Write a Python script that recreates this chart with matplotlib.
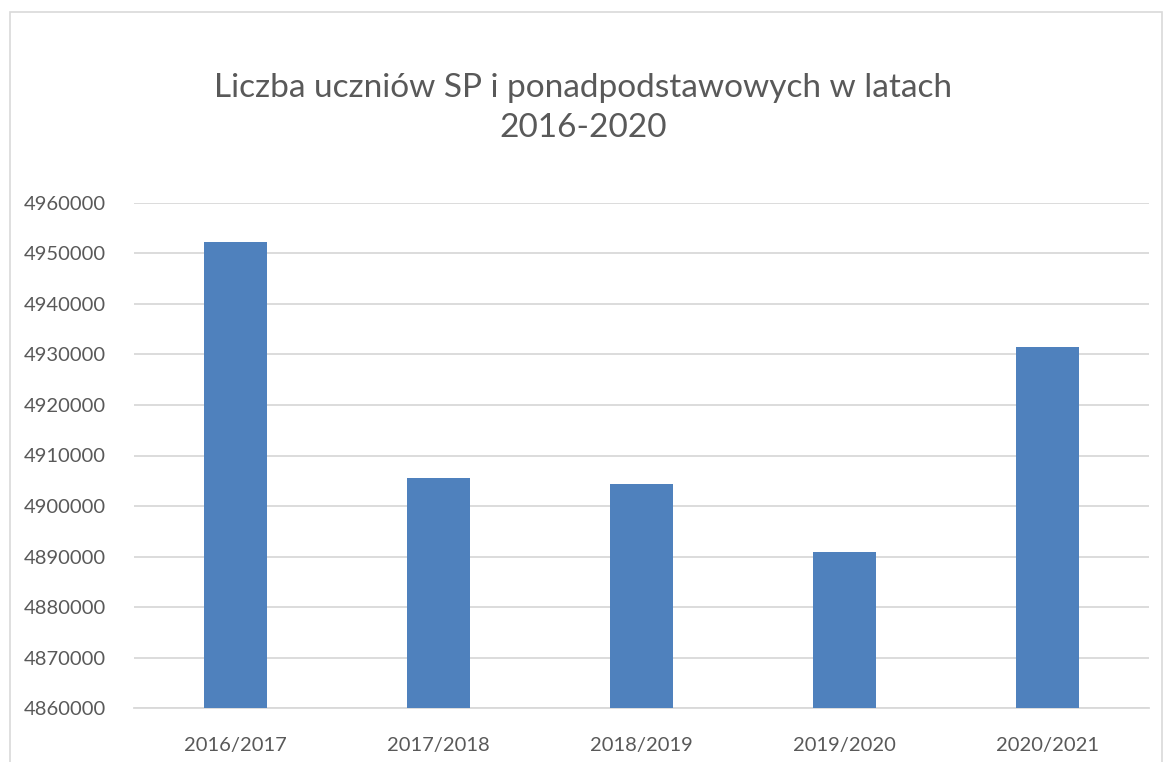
import matplotlib.pyplot as plt
from matplotlib.patches import Rectangle

# school years and pupil counts
years = ['2016/2017', '2017/2018', '2018/2019', '2019/2020', '2020/2021']
pupils = [4952200, 4905500, 4904400, 4891000, 4931500]
y_ticks = list(range(4860000, 4960001, 10000))

plt.rcParams['font.family'] = ['Lato', 'DejaVu Sans']

fig = plt.figure(figsize=(11.66, 7.62), dpi=100)
W, H = 1166, 762

# chart frame (light gray border, bottom runs off the picture)
fig.patches.append(Rectangle((10 / W, -0.05), (1162 - 10) / W, 1.05 - 12 / H,
                             transform=fig.transFigure, fill=False,
                             edgecolor='#D9D9D9', linewidth=1.2))

ax = fig.add_axes([134 / W, 1 - 708.3 / H, (1149 - 134) / W, (708.3 - 202.7) / H])

x = range(len(years))
ax.bar(x, pupils, width=0.314, color='#4F81BD', zorder=3)

ax.set_ylim(4860000, 4960000)
ax.set_xlim(-0.5, len(years) - 0.5)
ax.set_yticks(y_ticks)
ax.set_yticklabels([str(v) for v in y_ticks])
ax.set_xticks(list(x))
ax.set_xticklabels(years)
ax.grid(axis='y', color='#D9D9D9', linewidth=1.3, zorder=0)

for s in ['top', 'right', 'left']:
    ax.spines[s].set_visible(False)
ax.spines['bottom'].set_color('#D9D9D9')
ax.spines['bottom'].set_linewidth(1.3)
ax.tick_params(axis='both', length=0, labelsize=14.5, colors='#595959')
ax.tick_params(axis='y', pad=20)
ax.tick_params(axis='x', pad=21)

fig.text(0.5, 1 - 108 / H, 'Liczba uczniów SP i ponadpodstawowych w latach\n2016-2020',
         ha='center', va='center', fontsize=24, color='#595959', linespacing=1.45)

fig.savefig('out.png', dpi=100)
